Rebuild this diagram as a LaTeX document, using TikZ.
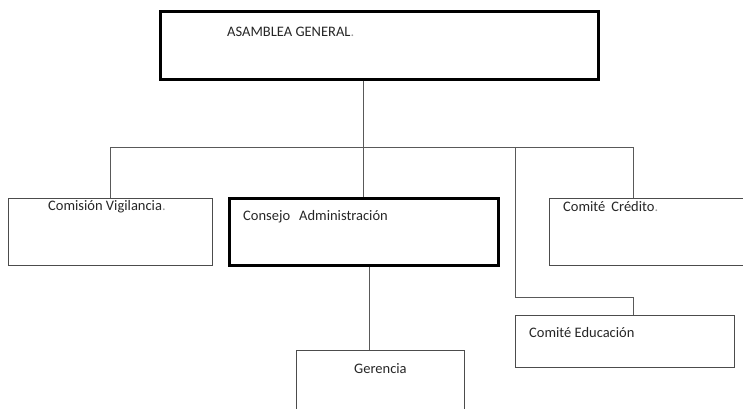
\documentclass[tikz,border=0pt]{standalone}
\usepackage{fontspec}
\setmainfont{Carlito}
\begin{document}
\begin{tikzpicture}[x=1pt,y=-1pt,
  thinbox/.style={draw=black!70,line width=0.9pt,rectangle,inner sep=0pt},
  thickbox/.style={draw=black,line width=3pt,rectangle,inner sep=0pt},
  lbl/.style={anchor=west,inner sep=0pt,font=\fontsize{14.5}{16}\selectfont,text=black!85},
  conn/.style={draw=black!65,line width=0.9pt}]
\useasboundingbox (0,0) rectangle (743,408);
\begin{scope}
\clip (0,0) rectangle (743,408);
% boxes
\node[thickbox,minimum width=438pt,minimum height=68pt] (asam) at (379,45) {};
\node[thinbox,minimum width=204pt,minimum height=67pt] (vig) at (110,231.5) {};
\node[thickbox,minimum width=269pt,minimum height=67pt] (cons) at (363.5,231.5) {};
\node[thinbox,minimum width=220pt,minimum height=67pt] (cred) at (659,232) {};
\node[thinbox,minimum width=219pt,minimum height=52pt] (edu) at (624.5,341) {};
\node[thinbox,minimum width=168pt,minimum height=80pt] (ger) at (380,390) {};
% labels
\node[lbl] (tasam) at (227,32) {ASAMBLEA GENERAL\textcolor{black!40}{.}};
\node[lbl] (tvig) at (48,207) {Comisión Vigilancia\textcolor{black!40}{.}};
\node[lbl] (tcons) at (243,217) {Consejo\hspace{9pt}Administración};
\node[lbl] (tcred) at (563,207) {Comité\hspace{6pt}Crédito\textcolor{black!40}{.}};
\node[lbl] (tedu) at (529,333) {Comité Educación};
\node[lbl] (tger) at (354,369) {Gerencia};
% connectors
\coordinate (bus) at (363,147);
\coordinate (busL) at (110,147);
\coordinate (busR) at (633,147);
\coordinate (busE) at (515,147);
\coordinate (eduA) at (515,297);
\coordinate (eduB) at (633,297);
\coordinate (gerX) at (369,0);
\draw[conn] (asam.south -| bus) -- (cons.north -| bus);
\draw[conn] (busL) -- (busR);
\draw[conn] (busL) -- (vig.north -| busL);
\draw[conn] (busR) -- (cred.north -| busR);
\draw[conn] (busE) -- (eduA) -- (eduB) -- (edu.north -| eduB);
\draw[conn] (cons.south -| gerX) -- (ger.north -| gerX);
\end{scope}
\end{tikzpicture}
\end{document}
